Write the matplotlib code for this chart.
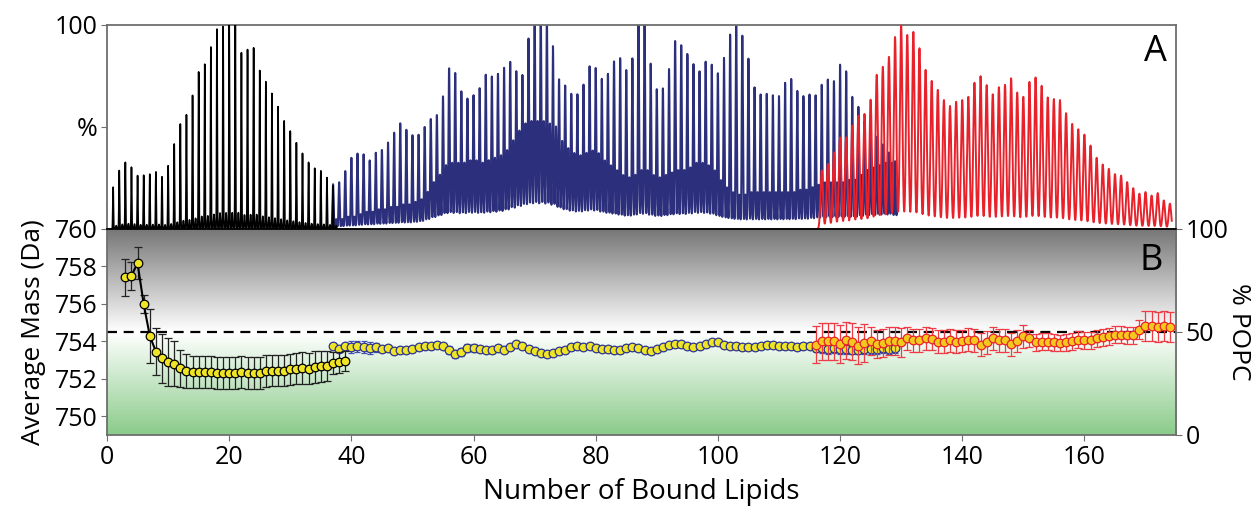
import numpy as np
import matplotlib
matplotlib.use("Agg")
import matplotlib.pyplot as plt
from matplotlib.colors import LinearSegmentedColormap

plt.rcParams["font.family"] = ["Open Sans", "DejaVu Sans"]

# --- panel A: native mass spectra, peak heights (%) per bound-lipid count ---
black_peak_n = np.arange(1, 38)
black_peak_h = [20.5, 28.7, 32.7, 30.3, 26.2, 26.4, 26.9, 28.0, 25.6, 31.0,
                41.7, 51.5, 56.0, 65.5, 77.0, 80.8, 89.3, 98.0, 99.2, 100.0,
                100.0, 86.5, 88.0, 88.8, 77.7, 72.2, 66.5, 60.0, 53.0, 48.0,
                42.3, 37.1, 32.7, 29.8, 28.5, 25.2, 21.2]

blue_peak_n = np.arange(37, 130)
blue_peak_h = [21.3, 22.1, 27.4, 33.9, 35.8, 35.2, 32.2, 35.8, 37.1, 40.6,
               45.4, 49.8, 46.6, 43.8, 43.8, 47.1, 50.2, 51.5, 59.9, 73.3,
               71.0, 62.0, 58.3, 59.9, 63.5, 70.0, 68.9, 70.0, 72.6, 74.8,
               69.4, 66.9, 84.5, 100.0, 100.0, 97.7, 81.1, 65.8, 63.5, 59.9,
               59.9, 64.5, 73.3, 72.6, 67.8, 70.7, 77.2, 79.2, 73.6, 79.2,
               98.2, 96.1, 76.5, 64.2, 64.5, 73.8, 87.3, 85.2, 80.8, 75.4,
               71.8, 76.7, 75.6, 72.1, 80.3, 92.2, 96.7, 91.9, 80.5, 66.4,
               62.9, 63.2, 62.5, 62.1, 68.6, 70.5, 64.5, 61.9, 62.5, 61.9,
               66.9, 69.4, 68.6, 76.7, 73.3, 60.7, 55.5, 48.0, 44.0, 40.0,
               36.0, 32.0, 28.0]
# second (overlapping) series in the blue spectrum
blue_sub_h = [4, 4, 5, 5, 6,
              7, 7, 8, 8, 9, 9, 10, 10, 11, 12,
              15, 19, 22,
              26, 27, 27, 27, 28, 28, 27, 28, 29, 30, 32,
              36, 40, 43, 44, 44, 44, 43, 42,
              36, 33, 31, 30, 31, 32, 31,
              28, 26, 24, 22, 21, 22, 24, 24, 22, 21,
              22, 23, 24, 24, 25,
              27, 27, 26, 24,
              20, 17, 15, 14, 14, 15, 15,
              15, 15, 15, 15, 15, 15, 16, 16, 17, 18,
              19, 19, 19, 19,
              20, 20, 22, 24, 25, 26, 27, 27, 26]

red_peak_n = np.arange(117, 175)
red_peak_h = [28.7, 31.9, 37.6, 44.9, 44.9, 50.7, 55.5, 56.4, 63.4, 75.6,
              79.5, 84.4, 94.1, 100.0, 95.1, 96.6, 88.6, 78.0, 72.6, 68.2,
              63.2, 60.3, 62.4, 63.2, 64.8, 71.7, 74.9, 70.5, 66.0, 69.5,
              70.7, 73.9, 66.9, 64.8, 72.1, 74.3, 70.2, 64.5, 63.7, 63.2,
              56.8, 51.5, 48.9, 46.3, 40.9, 34.9, 31.6, 29.5, 26.9, 26.2,
              23.0, 20.0, 17.3, 18.1, 16.4, 17.6, 14.0, 12.4]

# --- panel B: average lipid mass per bound-lipid count ---
black_n = np.arange(3, 40)
black_mass = [757.42, 757.51, 758.17, 756.00, 754.30, 753.45, 753.10, 752.90,
              752.80, 752.56, 752.40, 752.38, 752.38, 752.36, 752.36, 752.33,
              752.33, 752.33, 752.32, 752.36, 752.30, 752.30, 752.33, 752.40,
              752.44, 752.44, 752.44, 752.50, 752.55, 752.58, 752.55, 752.62,
              752.66, 752.70, 752.84, 752.88, 752.95]
black_err = [1.0, 0.75, 0.85, 0.5, 1.45, 1.25, 1.3, 1.3, 1.2, 1.0, 0.9,
             0.85, 0.85, 0.85, 0.85, 0.85, 0.85, 0.85, 0.85, 0.85, 0.85,
             0.85, 0.85, 0.85, 0.85, 0.85, 0.85, 0.85, 0.85, 0.85, 0.85,
             0.85, 0.85, 0.8, 0.6, 0.55, 0.55]

blue_n = np.arange(37, 130)
blue_mass = [753.73, 753.59, 753.73, 753.70, 753.73, 753.70, 753.64, 753.68,
             753.60, 753.64, 753.50, 753.52,
             753.55, 753.59, 753.68, 753.77, 753.73, 753.82, 753.77, 753.55,
             753.34, 753.43, 753.64, 753.64, 753.59, 753.55, 753.55, 753.64,
             753.55, 753.69, 753.84, 753.77, 753.59, 753.46, 753.37, 753.34,
             753.37, 753.46, 753.55, 753.69, 753.73, 753.69, 753.77, 753.64,
             753.61, 753.61, 753.55, 753.55, 753.64, 753.68, 753.62, 753.55,
             753.50, 753.59, 753.68, 753.78, 753.85, 753.85, 753.77, 753.68,
             753.73, 753.85, 753.94, 753.94, 753.82, 753.77, 753.73, 753.69,
             753.69, 753.69, 753.77, 753.80, 753.80, 753.77, 753.73, 753.73,
             753.69, 753.77, 753.77,
             753.66, 753.62, 753.60, 753.62, 753.58, 753.60, 753.56, 753.55,
             753.58, 753.60, 753.58, 753.62, 753.60, 753.62]
blue_err = ([0.15, 0.15, 0.2, 0.3, 0.3, 0.3, 0.3, 0.25] + [0.15] * 11
            + [0.22] * 5 + [0.15] * 55 + [0.25] * 14)

red_n = np.arange(116, 175)
red_mass = [753.82, 754.00, 754.00, 754.00, 753.87, 754.05, 753.98, 753.77,
            753.91, 754.00, 753.87, 753.91, 754.00, 754.00, 753.94, 754.16,
            754.05, 754.05, 754.16, 754.12, 753.98, 753.98, 754.05, 753.98,
            754.01, 754.09, 754.05, 753.82, 753.94, 754.16, 754.05, 754.05,
            753.84, 754.03, 754.26, 754.16, 753.94, 753.98, 753.98, 753.94,
            753.91, 753.94, 754.01, 754.09, 754.05, 754.05, 754.16, 754.21,
            754.26, 754.35, 754.35, 754.33, 754.33, 754.62, 754.80, 754.83,
            754.76, 754.83, 754.76]
red_err = ([1.0] * 9 + [0.75] * 6 + [0.6] * 20 + [0.45] * 18 + [0.5]
           + [0.8] * 5)

xticks = [0, 20, 40, 60, 80, 100, 120, 140, 160]
mass_ticks = [750, 752, 754, 756, 758, 760]
pct_ticks = [0, 50, 100]
mass_lim = (749, 760)
popc_half = 50


def pct_to_mass(p):
    return mass_lim[0] + p / 100 * (mass_lim[1] - mass_lim[0])


def trace(x, centres, heights, width, offset=0.0):
    y = np.zeros_like(x)
    for c, h in zip(centres, heights):
        y += h * np.exp(-0.5 * ((x - c - offset) / width) ** 2)
    return y


fig = plt.figure(figsize=(12.59, 5.09), dpi=100)
ax_a = fig.add_axes([0.0850, 0.5501, 0.8491, 0.4008])
ax_b = fig.add_axes([0.0850, 0.1454, 0.8491, 0.4047], sharex=ax_a)

frame = "#6e6e6e"

# spectra
xb = np.linspace(0.6, 37.6, 8000)
yb = trace(xb, black_peak_n, black_peak_h, 0.05)
yb += trace(xb, black_peak_n, np.array(black_peak_h) * 0.08, 0.07, 0.5)
xu = np.linspace(36.5, 129.4, 20000)
yu = trace(xu, blue_peak_n, blue_peak_h, 0.09)
yu += trace(xu, blue_peak_n, blue_sub_h, 0.1, 0.5)
yu += trace(xu, blue_peak_n, np.array(blue_sub_h) * 0.18, 0.45, 0.25)
xr = np.linspace(116.1, 174.3, 12000)
yr = trace(xr, red_peak_n, red_peak_h, 0.2)

ax_a.plot(xu, yu, color="#2c2f7c", lw=1.5, zorder=2)
ax_a.plot(xb, yb, color="black", lw=1.2, zorder=3)
ax_a.plot(xr, yr, color="#e8222b", lw=1.4, zorder=4)
ax_a.set_ylim(0, 100)
ax_a.set_yticks([100, 50])
ax_a.set_yticklabels(["100", "%"])
ax_a.tick_params(axis="x", bottom=False, labelbottom=False)
ax_a.tick_params(axis="y", labelsize=18, length=4, color=frame, pad=3)
ax_a.text(0.991, 0.955, "A", transform=ax_a.transAxes, ha="right",
          va="top", fontsize=26)
for s in ax_a.spines.values():
    s.set_color(frame)
    s.set_linewidth(1.3)

# background gradient: grey (100 % POPC) -> white -> green (0 % POPC)
cmap = LinearSegmentedColormap.from_list(
    "popc", [(0.0, "#8acb8a"), (0.5, "#ffffff"), (1.0, "#777777")])
grad = np.linspace(0, 1, 256).reshape(-1, 1)
ax_b.imshow(grad, aspect="auto", cmap=cmap, origin="lower",
            extent=[0, 175, mass_lim[0], mass_lim[1]], zorder=0)

ax_b.axhline(pct_to_mass(popc_half), color="black", lw=1.6,
             ls=(0, (4.5, 3)), zorder=1)

ax_b.errorbar(blue_n, blue_mass, yerr=blue_err, fmt="o-", color="#2c3590",
              lw=0.8, ms=6.2, mfc="#efe425", mec="#2c3590", mew=0.9,
              ecolor="#4250b0", elinewidth=0.8, capsize=2.5, zorder=3)
ax_b.errorbar(black_n, black_mass, yerr=black_err, fmt="o-", color="black",
              lw=1.5, ms=6.2, mfc="#efe425", mec="black", mew=0.9,
              ecolor="#222222", elinewidth=0.9, capsize=3, zorder=4)
ax_b.errorbar(red_n, red_mass, yerr=red_err, fmt="o-", color="#e8222b",
              lw=0.8, ms=6.2, mfc="#f5c81e", mec="#e8222b", mew=0.9,
              ecolor="#ee3b45", elinewidth=0.9, capsize=3, zorder=5)

ax_b.set_xlim(0, 175)
ax_b.set_ylim(*mass_lim)
ax_b.set_xticks(xticks)
ax_b.set_yticks(mass_ticks)
ax_b.tick_params(labelsize=18, length=4, color=frame, pad=3)
ax_b.set_xlabel("Number of Bound Lipids", fontsize=20, labelpad=6)
ax_b.set_ylabel("Average Mass (Da)", fontsize=19, labelpad=6)
ax_b.text(0.988, 0.93, "B", transform=ax_b.transAxes, ha="right",
          va="top", fontsize=26)
for s in ax_b.spines.values():
    s.set_color(frame)
    s.set_linewidth(1.3)
ax_b.spines["top"].set_color("black")

ax_r = ax_b.twinx()
ax_r.set_ylim(0, 100)
ax_r.set_yticks(pct_ticks)
ax_r.tick_params(labelsize=18, length=4, color=frame, pad=3)
ax_r.set_ylabel("% POPC", fontsize=19, rotation=270, labelpad=16)
for s in ax_r.spines.values():
    s.set_visible(False)

fig.savefig("out.png", dpi=100)
